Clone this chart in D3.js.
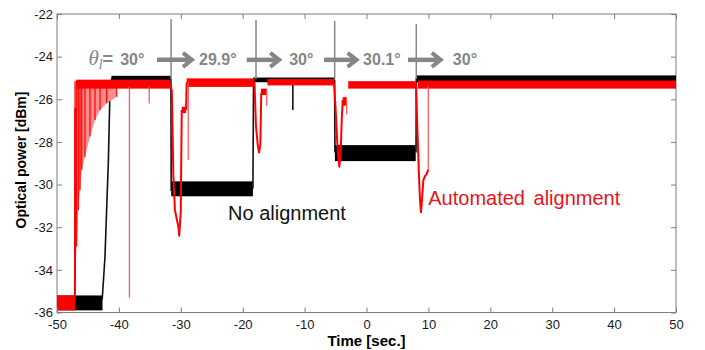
<!DOCTYPE html>
<html>
<head>
<meta charset="utf-8">
<script src="https://cdn.jsdelivr.net/npm/d3@7"></script>
<style>
	body { margin: 0; background: #fff; }
	svg { display: block; font-family: "Liberation Sans", Arial, sans-serif; }
</style>
</head>
<body>
<div id="chart"></div>
<script>
var xTicks = [-50, -40, -30, -20, -10, 0, 10, 20, 30, 40, 50];
var yTicks = [-36, -34, -32, -30, -28, -26, -24, -22];

// no alignment (black): noisy plateaus [t start, t end, low dBm, high dBm]
var blackBands = [
	[-50, -42.65, -35.9, -35.2],
	[-41.2, -31.6, -25.2, -24.9],
	[-31.55, -18.35, -30.55, -29.85],
	[-18.3, -5.15, -25.2, -24.98],
	[-5.1, 7.95, -28.9, -28.15],
	[8.05, 50, -25.2, -24.88]
];
// black: transitions and spikes, [t, dBm]
var blackEdges = [
	[[-42.7, -35.4], [-42.25, -33.4], [-41.9, -30.5], [-41.7, -28.9], [-41.45, -25.7], [-41.15, -25.0]],
	[[-31.6, -25.05], [-31.55, -30.3]],
	[[-18.35, -30.2], [-18.25, -25.1]],
	[[-11.9, -25.15], [-11.9, -26.5]],
	[[-5.15, -25.1], [-5.1, -28.5]],
	[[8.0, -28.5], [8.05, -25.0]]
];

// automated alignment (red): noisy plateaus [t start, t end, low dBm, high dBm]
var redBands = [
	[-50, -47.1, -35.9, -35.2],
	[-46.9, -31.65, -25.5, -25.08],
	[-29.85, -29.15, -26.65, -26.35],
	[-29.05, -18.1, -25.42, -25.02],
	[-17.05, -16.1, -25.8, -25.5],
	[-16.0, -5.2, -25.35, -25.05],
	[-3.85, -3.2, -26.3, -25.9],
	[-2.95, 7.95, -25.5, -25.15],
	[8.3, 50, -25.5, -25.12]
];
// red: ringing after switch-on, [t, lowest dBm]
var redRinging = [
	[-47.09, -34.48], [-46.82, -32.9], [-46.56, -31.19], [-46.28, -30.26],
	[-46.0, -29.3], [-45.48, -28.69], [-44.67, -27.75], [-43.86, -26.97],
	[-43.05, -26.5], [-41.97, -26.19], [-40.36, -25.88]
];
var redRingTop = -25.15;
// red: dips at each angle change, [t, dBm]
var redDips = [
	[[-47.1, -35.3], [-47.05, -26.4]],
	[[-31.7, -25.3], [-31.45, -25.6], [-31.2, -29.6], [-30.95, -31.2], [-30.4, -31.97], [-30.25, -32.4], [-30.0, -31.2], [-29.85, -26.5]],
	[[-29.15, -26.5], [-29.05, -25.2]],
	[[-18.1, -25.2], [-17.85, -27.3], [-17.55, -28.2], [-17.35, -28.5], [-17.15, -28.1], [-17.0, -25.7]],
	[[-5.25, -25.25], [-4.98, -26.5], [-4.72, -28.05], [-4.56, -28.7], [-4.39, -29.16], [-4.17, -28.5], [-4.0, -26.97], [-3.84, -26.03]],
	[[8.0, -25.25], [8.21, -27.3], [8.48, -29.6], [8.64, -30.7], [8.8, -31.3], [8.97, -30.7], [9.18, -29.8], [9.45, -29.6], [9.73, -29.5], [9.98, -29.3]]
];
// red: thin spikes [t, from dBm, to dBm]
var redSpikes = [
	[-38.3, -25.4, -35.3],
	[-35.1, -25.4, -26.2],
	[-28.8, -25.2, -28.85],
	[-16.12, -25.6, -26.3],
	[-3.2, -26.0, -26.7],
	[9.98, -29.3, -25.4]
];

// annotations
var switchTimes = [-31.57, -17.85, -5.14, 8.04];
var switchTops = [-22.23, -22.28, -22.33, -22.47];
var angleLabels = ['30°', '29.9°', '30°', '30.1°', '30°'];
var angleTimes = [-39.8, -27.05, -12.5, -0.55, 13.95];
var arrowFrom = [-33.85, -19.35, -6.85, 6.7];
var arrowTo = [-28.2, -14.1, -1.6, 12.0];

var width = 705, height = 350;
var margin = { left: 57, top: 14, right: 29, bottom: 37.5 };

var svg = d3.select('#chart')
	.append('svg')
	.attr('width', width)
	.attr('height', height);

var x = d3.scaleLinear()
	.domain([-50, 50])
	.range([margin.left, width - margin.right]);
var y = d3.scaleLinear()
	.domain([-36, -22])
	.range([height - margin.bottom, margin.top]);

var line = d3.line()
	.x(function (d) { return x(d[0]); })
	.y(function (d) { return y(d[1]); });

// plot box
svg.append('rect')
	.attr('x', x(-50))
	.attr('y', y(-22))
	.attr('width', x(50) - x(-50))
	.attr('height', y(-36) - y(-22))
	.attr('fill', 'none')
	.attr('stroke', '#7f7f7f');

// black trace
var black = svg.append('g');
black.selectAll('rect')
	.data(blackBands)
	.enter()
	.append('rect')
	.attr('x', function (d) { return x(d[0]); })
	.attr('y', function (d) { return y(d[3]); })
	.attr('width', function (d) { return x(d[1]) - x(d[0]); })
	.attr('height', function (d) { return y(d[2]) - y(d[3]); })
	.attr('fill', '#000');
black.selectAll('path')
	.data(blackEdges)
	.enter()
	.append('path')
	.attr('d', line)
	.attr('fill', 'none')
	.attr('stroke', '#111')
	.attr('stroke-width', 1.6);

// red trace
var red = svg.append('g');
red.append('path')
	.datum(redRinging)
	.attr('d', d3.area()
		.x(function (d) { return x(d[0]); })
		.y0(function (d) { return y(d[1]); })
		.y1(y(redRingTop)))
	.attr('fill', '#ff8c8c');
red.selectAll('line.ring')
	.data(redRinging)
	.enter()
	.append('line')
	.attr('class', 'ring')
	.attr('x1', function (d) { return x(d[0]); })
	.attr('x2', function (d) { return x(d[0]); })
	.attr('y1', y(redRingTop))
	.attr('y2', function (d) { return y(d[1]); })
	.attr('stroke', '#f00')
	.attr('stroke-width', 1.2);
red.selectAll('rect')
	.data(redBands)
	.enter()
	.append('rect')
	.attr('x', function (d) { return x(d[0]); })
	.attr('y', function (d) { return y(d[3]); })
	.attr('width', function (d) { return x(d[1]) - x(d[0]); })
	.attr('height', function (d) { return y(d[2]) - y(d[3]); })
	.attr('fill', '#f00');
red.selectAll('path.dip')
	.data(redDips)
	.enter()
	.append('path')
	.attr('class', 'dip')
	.attr('d', line)
	.attr('fill', 'none')
	.attr('stroke', '#f00')
	.attr('stroke-width', 2)
	.attr('stroke-linejoin', 'round');
red.selectAll('line.spike')
	.data(redSpikes)
	.enter()
	.append('line')
	.attr('class', 'spike')
	.attr('x1', function (d) { return x(d[0]); })
	.attr('x2', function (d) { return x(d[0]); })
	.attr('y1', function (d) { return y(d[1]); })
	.attr('y2', function (d) { return y(d[2]); })
	.attr('stroke', '#ff5a5a')
	.attr('stroke-width', 1.3);

// axes (ticks inside, on all four sides)
function styleAxis(g) {
	g.select('.domain').remove();
	g.selectAll('.tick line').attr('stroke', '#7f7f7f');
	g.selectAll('.tick text')
		.attr('fill', '#1a1a1a')
		.style('font-size', '13px')
		.style('font-family', '"Liberation Sans", Arial, sans-serif');
}
svg.append('g')
	.attr('transform', 'translate(0,' + y(-36) + ')')
	.call(d3.axisBottom(x).tickValues(xTicks).tickSizeInner(-5).tickSizeOuter(0).tickPadding(7)
		.tickFormat(function (d) { return String(d); }))
	.call(styleAxis);
svg.append('g')
	.attr('transform', 'translate(' + x(-50) + ',0)')
	.call(d3.axisLeft(y).tickValues(yTicks).tickSizeInner(-5).tickSizeOuter(0).tickPadding(4)
		.tickFormat(function (d) { return String(d); }))
	.call(styleAxis);
svg.append('g')
	.attr('transform', 'translate(0,' + y(-22) + ')')
	.call(d3.axisTop(x).tickValues(xTicks).tickSizeInner(-5).tickSizeOuter(0).tickFormat(''))
	.call(styleAxis);
svg.append('g')
	.attr('transform', 'translate(' + x(50) + ',0)')
	.call(d3.axisRight(y).tickValues(yTicks).tickSizeInner(-5).tickSizeOuter(0).tickFormat(''))
	.call(styleAxis);

// angle change markers
var gray = '#868686';
var notes = svg.append('g');
notes.selectAll('line')
	.data(switchTimes)
	.enter()
	.append('line')
	.attr('x1', function (d) { return x(d); })
	.attr('x2', function (d) { return x(d); })
	.attr('y1', function (d, i) { return y(switchTops[i]); })
	.attr('y2', y(-25.05))
	.attr('stroke', gray)
	.attr('stroke-width', 1.5);

var arrowY = y(-24.15);
notes.selectAll('path.shaft')
	.data(arrowFrom)
	.enter()
	.append('path')
	.attr('class', 'shaft')
	.attr('d', function (d, i) {
		return 'M' + x(d) + ',' + arrowY + 'H' + (x(arrowTo[i]) - 3);
	})
	.attr('stroke', gray)
	.attr('stroke-width', 4.5);
notes.selectAll('path.head')
	.data(arrowTo)
	.enter()
	.append('path')
	.attr('class', 'head')
	.attr('d', function (d) {
		var e = x(d);
		return 'M' + (e - 9) + ',' + (arrowY - 7) + 'L' + e + ',' + arrowY + 'L' + (e - 9) + ',' + (arrowY + 7);
	})
	.attr('fill', 'none')
	.attr('stroke', gray)
	.attr('stroke-width', 4);

notes.selectAll('text.angle')
	.data(angleLabels)
	.enter()
	.append('text')
	.attr('class', 'angle')
	.attr('x', function (d, i) { return x(angleTimes[i]); })
	.attr('y', y(-24.4))
	.attr('fill', gray)
	.style('font-size', '16px')
	.style('font-weight', 'bold')
	.text(function (d) { return d; });

var theta = notes.append('text')
	.attr('x', x(angleTimes[0]) - 7)
	.attr('y', y(-24.4))
	.attr('text-anchor', 'end')
	.attr('fill', gray);
theta.append('tspan')
	.style('font-family', '"Liberation Serif", "Times New Roman", serif')
	.style('font-style', 'italic')
	.style('font-size', '21px')
	.text('θ');
theta.append('tspan')
	.attr('dy', 4)
	.style('font-family', '"Liberation Serif", "Times New Roman", serif')
	.style('font-style', 'italic')
	.style('font-size', '14px')
	.text('l');
theta.append('tspan')
	.attr('dy', -4)
	.style('font-size', '18px')
	.style('font-weight', 'bold')
	.text('=');

// trace labels
svg.append('text')
	.attr('x', x(-22.37))
	.attr('y', y(-31.66))
	.attr('fill', '#111')
	.style('font-size', '20px')
	.text('No alignment');
svg.append('text')
	.attr('x', x(9.98))
	.attr('y', y(-30.96))
	.attr('fill', '#e8141c')
	.style('font-size', '20px')
	.style('word-spacing', '3px')
	.text('Automated alignment');

// axis titles
svg.append('text')
	.attr('x', (x(-50) + x(50)) / 2)
	.attr('y', 345.5)
	.attr('text-anchor', 'middle')
	.style('font-size', '15px')
	.style('font-weight', 'bold')
	.text('Time [sec.]');
svg.append('text')
	.attr('transform', 'translate(26,160) rotate(-90)')
	.attr('text-anchor', 'middle')
	.style('font-size', '14px')
	.style('font-weight', 'bold')
	.text('Optical power [dBm]');
</script>
</body>
</html>
